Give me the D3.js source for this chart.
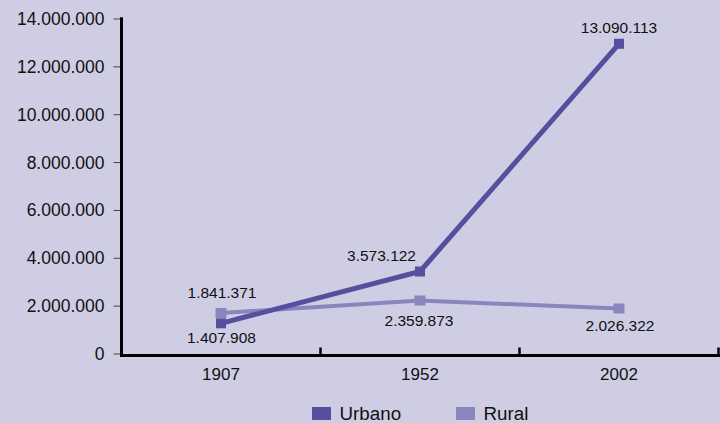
<!DOCTYPE html>
<meta charset="utf-8">
<style>
body { margin: 0; background: #cfcde3; }
svg { display: block; font-family: "Liberation Sans", Arial, sans-serif; }
.yaxis .domain { display: none; }
.yaxis line { stroke: #444; stroke-width: 1; }
.yaxis text { font-size: 17.5px; fill: #111; }
.xlab { font-size: 17px; fill: #111; }
.vlab { font-size: 15.5px; fill: #111; }
.leg { font-size: 18.8px; fill: #111; }
</style>
<svg width="720" height="423"></svg>
<script src="https://cdn.jsdelivr.net/npm/d3@7"></script>
<script>
// data
var years = ["1907", "1952", "2002"];
var urbano = [1407908, 3573122, 13090113];
var rural = [1841371, 2359873, 2026322];
var yTicks = [0, 2000000, 4000000, 6000000, 8000000, 10000000, 12000000, 14000000];

var svg = d3.select("svg");

var left = 121.5, right = 718.5, bottom = 355.5;

var x = d3.scaleBand()
    .domain(years)
    .range([left, right]);

var y = d3.scaleLinear()
    .domain([0, 14000000])
    .range([357, 22]);

var fmt = function(v) { return d3.format(",")(v).replace(/,/g, "."); };

// y axis ticks + labels
var gy = svg.append("g")
    .attr("class", "yaxis")
    .attr("transform", "translate(" + left + ",-3.5)")
    .call(d3.axisLeft(y).tickValues(yTicks).tickSize(8).tickPadding(9).tickFormat(fmt));
gy.selectAll(".tick text").attr("dy", "0.34em");
gy.selectAll(".tick").filter(function(d) { return d == 14000000; })
  .select("line").attr("stroke", "#000").attr("stroke-width", 2.5);

// axis lines
svg.append("line")
    .attr("x1", left).attr("x2", left)
    .attr("y1", y(14000000) - 4.7).attr("y2", bottom + 1.5)
    .attr("stroke", "#000").attr("stroke-width", 3);
svg.append("line")
    .attr("x1", left - 1.5).attr("x2", right + 1.5)
    .attr("y1", bottom).attr("y2", bottom)
    .attr("stroke", "#000").attr("stroke-width", 3);

// x ticks at band edges (pointing up)
svg.selectAll(".xtick")
    .data(years)
  .enter().append("line")
    .attr("class", "xtick")
    .attr("x1", function(d) { return x(d) + x.bandwidth(); })
    .attr("x2", function(d) { return x(d) + x.bandwidth(); })
    .attr("y1", bottom - 8).attr("y2", bottom)
    .attr("stroke", "#000").attr("stroke-width", 2.5);

svg.selectAll(".xlab")
    .data(years)
  .enter().append("text")
    .attr("class", "xlab")
    .attr("x", function(d) { return x(d) + x.bandwidth() / 2; })
    .attr("y", 379.5)
    .attr("text-anchor", "middle")
    .text(function(d) { return d; });

var series = [
  { name: "Urbano", values: urbano, color: "#554f9d", width: 5, size: 10,
    // label offsets relative to point: [dx, dy, anchor]
    place: [[-34, 20, "start"], [-4, -11, "end"], [0, -11, "middle"]] },
  { name: "Rural", values: rural, color: "#8b85bf", width: 4, size: 11,
    place: [[1, -15, "middle"], [-1, 25, "middle"], [1, 22, "middle"]] }
];

var line = d3.line()
    .x(function(d, i) { return x(years[i]) + x.bandwidth() / 2; })
    .y(function(d) { return y(d); });

// draw rural first so urbano sits on top
series.slice().reverse().forEach(function(s) {
  svg.append("path")
      .datum(s.values)
      .attr("d", line)
      .attr("fill", "none")
      .attr("stroke", s.color)
      .attr("stroke-width", s.width);
  svg.selectAll(".m" + s.name)
      .data(s.values)
    .enter().append("rect")
      .attr("x", function(d, i) { return x(years[i]) + x.bandwidth() / 2 - s.size / 2; })
      .attr("y", function(d) { return y(d) - 5; })
      .attr("width", s.size).attr("height", 10)
      .attr("fill", s.color);
});

series.forEach(function(s) {
  svg.selectAll(".v" + s.name)
      .data(s.values)
    .enter().append("text")
      .attr("class", "vlab")
      .attr("x", function(d, i) { return x(years[i]) + x.bandwidth() / 2 + s.place[i][0]; })
      .attr("y", function(d, i) { return y(d) + s.place[i][1]; })
      .attr("text-anchor", function(d, i) { return s.place[i][2]; })
      .text(function(d) { return fmt(d); });
});

// legend
var legX = [312, 456];
var leg = svg.selectAll(".legitem")
    .data(series)
  .enter().append("g")
    .attr("transform", function(d, i) { return "translate(" + legX[i] + ",407)"; });
leg.append("rect")
    .attr("width", 19).attr("height", 13)
    .attr("fill", function(d) { return d.color; });
leg.append("text")
    .attr("class", "leg")
    .attr("x", 27.5).attr("y", 13)
    .text(function(d) { return d.name; });
</script>
